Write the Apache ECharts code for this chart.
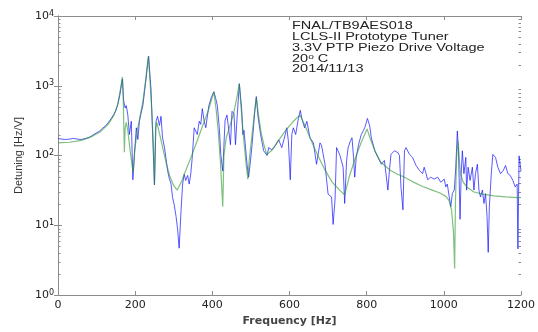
<!DOCTYPE html>
<html>
<head>
<meta charset="utf-8">
<title>Detuning</title>
<script src="https://cdn.jsdelivr.net/npm/echarts@6/dist/echarts.min.js"></script>
<style>
  html, body {
    margin: 0;
    padding: 0;
    background: #fff;
  }
  #chart {
    width: 538px;
    height: 332px;
  }
</style>
</head>
<body>
<div id="chart"></div>
<script>
// measured transfer function (blue)
let freqMeas = [0, 5, 10, 15, 20, 25, 30, 35, 40, 45, 50, 55, 60, 65, 70, 75, 80, 85, 90, 95,
  100, 108, 115, 122, 130, 138, 145, 150, 155, 160, 164, 167, 170, 174, 177, 181, 185, 190, 194, 198,
  203, 207, 211, 216, 220, 224, 228, 232, 235, 238, 241, 245, 250, 254, 258, 263, 267, 271, 276, 280,
  284, 288, 293, 297, 301, 306, 310, 314, 319, 323, 327, 331, 336, 340, 344, 348, 353, 357, 361, 366,
  370, 374, 379, 383, 391, 398, 404, 409, 413, 418, 422, 427, 433, 438, 447, 451, 456, 460, 464, 470,
  476, 479, 482, 486, 490, 494, 499, 503, 510, 514, 518, 525, 533, 542, 546, 554, 563, 572, 580, 589,
  593, 597, 602, 606, 610, 616, 623, 628, 632, 639, 645, 653, 662, 670, 679, 683, 692, 700, 709, 713,
  718, 722, 731, 739, 743, 748, 752, 758, 762, 766, 769, 773, 779, 786, 795, 802, 808, 812, 821, 829,
  838, 846, 855, 859, 863, 872, 881, 885, 889, 894, 898, 902, 911, 919, 928, 937, 945, 949, 954, 958,
  966, 975, 984, 992, 1001, 1005, 1009, 1014, 1018, 1022, 1027, 1031, 1035, 1038, 1040, 1042, 1045, 1048, 1052, 1057,
  1059, 1063, 1068, 1074, 1078, 1082, 1087, 1091, 1095, 1100, 1104, 1108, 1112, 1115, 1118, 1123, 1127, 1134, 1140, 1147,
  1154, 1160, 1166, 1172, 1179, 1185, 1190, 1192, 1195, 1197, 1200]
let detMeas = [175, 168, 172, 165, 170, 160, 172, 165, 176, 166, 172, 178, 170, 181, 175, 186, 180, 192, 196, 205,
  212, 225, 245, 262, 295, 340, 390, 440, 540, 720, 1000, 1250, 620, 480, 520, 380, 200, 310, 45, 103,
  250, 170, 310, 420, 520, 800, 1250, 2000, 2650, 1500, 900, 225, 38, 310, 365, 270, 365, 180, 130, 90,
  61, 48, 39, 25, 20, 13.4, 8.8, 4.7, 16.7, 39, 54, 44, 52, 39, 54, 94, 250, 265, 200, 310,
  280, 470, 310, 250, 520, 700, 820, 650, 520, 250, 103, 60, 320, 380, 143, 430, 400, 143, 340, 1070,
  470, 200, 230, 130, 75, 49, 85, 143, 430, 700, 380, 200, 117, 100, 130, 121, 138, 168, 130, 200,
  250, 163, 45, 200, 250, 200, 340, 445, 340, 250, 310, 180, 152, 75, 152, 140, 75, 28, 25.5, 10.3,
  23, 130, 100, 68, 20.6, 85, 130, 163, 180, 94, 49, 94, 144, 200, 250, 340, 265, 180, 117, 94,
  75, 85, 32, 61, 104, 117, 110, 100, 35, 16.7, 117, 130, 104, 94, 72, 61, 55, 68, 55, 45,
  49, 46, 49, 41.5, 46, 35.5, 39, 25.5, 18.5, 28.5, 32, 68, 225, 117, 39, 12.2, 55, 117, 55, 94,
  32, 68, 44, 68, 32, 55, 75, 32, 25.5, 32, 20.6, 28.5, 13.4, 4.1, 18.5, 55, 104, 94, 68, 55,
  61, 72, 55, 52, 44, 35.5, 39, 4.6, 99, 104, 60]

// model fit (green)
let freqFit = [0, 30, 60, 90, 110, 130, 145, 155, 162, 167, 169, 171, 172, 174, 177, 181, 186, 191, 195, 199,
  205, 212, 220, 228, 234, 238, 243, 247, 250, 253, 256, 262, 270, 280, 290, 300, 309, 320, 331, 345,
  357, 373, 390, 404, 410, 416, 421, 425, 427, 430, 436, 445, 455, 463, 470, 475, 481, 487, 492, 496,
  503, 509, 514, 519, 526, 534, 541, 555, 570, 590, 610, 627, 640, 655, 670, 690, 710, 730, 743, 755,
  770, 785, 801, 810, 822, 837, 860, 880, 898, 920, 945, 970, 990, 1005, 1013, 1020, 1025, 1028, 1030, 1033,
  1037, 1040, 1043, 1050, 1060, 1078, 1100, 1130, 1160, 1190, 1200]
let detFit = [152, 155, 165, 190, 220, 280, 380, 550, 900, 1340, 700, 200, 112, 250, 300, 230, 130, 80, 57, 120,
  220, 350, 600, 1300, 2650, 1300, 450, 150, 38, 250, 300, 220, 140, 80, 50, 37, 32, 42, 61, 95,
  143, 250, 450, 820, 450, 200, 80, 30, 18.5, 100, 180, 260, 400, 650, 1070, 450, 180, 80, 46, 90,
  200, 400, 680, 400, 220, 140, 103, 120, 160, 230, 310, 380, 270, 170, 110, 65, 42, 32, 27.3, 50,
  90, 150, 240, 170, 115, 80, 62, 54, 49, 42, 36, 32, 29, 26, 23, 16.7, 8, 2.4, 20, 94,
  163, 90, 55, 42, 35, 30, 28, 26.5, 25.5, 25, 25]

let notes = ['FNAL/TB9AES018', 'LCLS-II Prototype Tuner', '3.3V PTP Piezo Drive Voltage', '20{s|o} C', '2014/11/13']

// minor ticks of the log axis, 2..9 in every decade
let minorTicks = []
for (let e = 0; e < 4; e++) {
  for (let m = 2; m <= 9; m++) {
    minorTicks.push([0, m * Math.pow(10, e)])
  }
}

let axisGray = '#8c8c8c'
let labelFont = {fontFamily: 'DejaVu Sans', fontSize: 11, color: '#222'}

let chart = echarts.init(document.getElementById('chart'))

let noteGraphics = notes.map(function (t, i) {
  return {
    type: 'text',
    x: 292,
    y: 21 + i * 10.9,
    scaleX: 1.45,
    silent: true,
    style: {
      text: t,
      fill: '#222',
      font: '10px "Liberation Sans"',
      verticalAlign: 'top',
      rich: {
        s: {fontSize: 7, fontFamily: 'Liberation Sans', fill: '#222', verticalAlign: 'top', padding: [0, 0, 4, 0]}
      }
    }
  }
})

let option = {
  animation: false,
  backgroundColor: '#fff',
  grid: {
    left: 58,
    right: 14,
    top: 16,
    bottom: 32
  },
  xAxis: [
    {
      type: 'value',
      min: 0,
      max: 1200,
      interval: 200,
      name: 'Frequency [Hz]',
      nameLocation: 'middle',
      nameGap: 15,
      nameTextStyle: {fontFamily: 'DejaVu Sans', fontSize: 11, fontWeight: 'bold', color: '#444'},
      axisLine: {lineStyle: {color: axisGray}},
      axisTick: {inside: true, length: 4, lineStyle: {color: axisGray}},
      axisLabel: Object.assign({
        margin: 5,
        formatter: function (v) {
          return String(v)
        }
      }, labelFont),
      splitLine: {show: false}
    },
    {
      type: 'value',
      position: 'top',
      min: 0,
      max: 1200,
      interval: 200,
      axisLine: {show: true, lineStyle: {color: axisGray}},
      axisTick: {inside: true, length: 4, lineStyle: {color: axisGray}},
      axisLabel: {show: false},
      splitLine: {show: false}
    }
  ],
  yAxis: [
    {
      type: 'log',
      logBase: 10,
      min: 1,
      max: 10000,
      name: 'Detuning [Hz/V]',
      nameLocation: 'middle',
      nameGap: 33,
      nameTextStyle: {fontFamily: 'Liberation Sans', fontSize: 11, color: '#333'},
      axisLine: {show: true, lineStyle: {color: axisGray}},
      axisTick: {inside: true, length: 4, lineStyle: {color: axisGray}},
      axisLabel: {
        margin: 4,
        formatter: function (v) {
          return '{b|10}{s|' + Math.round(Math.log10(v)) + '}'
        },
        rich: {
          b: {fontFamily: 'DejaVu Sans', fontSize: 11, color: '#222'},
          s: {fontFamily: 'DejaVu Sans', fontSize: 8, color: '#222', verticalAlign: 'top', padding: [0, 0, 5, 0]}
        }
      },
      splitLine: {show: false}
    },
    {
      type: 'log',
      logBase: 10,
      min: 1,
      max: 10000,
      position: 'right',
      axisLine: {show: true, lineStyle: {color: axisGray}},
      axisTick: {inside: true, length: 4, lineStyle: {color: axisGray}},
      axisLabel: {show: false},
      splitLine: {show: false}
    }
  ],
  graphic: noteGraphics,
  series: [
    {
      name: 'minor ticks',
      type: 'custom',
      silent: true,
      clip: false,
      data: minorTicks,
      renderItem: function (params, api) {
        let cs = params.coordSys
        let y = Math.round(api.coord([0, api.value(1)])[1]) + 0.5
        let st = {stroke: axisGray, lineWidth: 1}
        return {
          type: 'group',
          children: [
            {type: 'line', shape: {x1: cs.x, y1: y, x2: cs.x + 2.5, y2: y}, style: st},
            {type: 'line', shape: {x1: cs.x + cs.width - 2.5, y1: y, x2: cs.x + cs.width, y2: y}, style: st}
          ]
        }
      }
    },
    {
      name: 'measured',
      type: 'line',
      showSymbol: false,
      data: freqMeas.map(function (f, i) { return [f, detMeas[i]] }),
      lineStyle: {color: 'rgba(20, 20, 255, 0.7)', width: 1}
    },
    {
      name: 'fit',
      type: 'line',
      showSymbol: false,
      data: freqFit.map(function (f, i) { return [f, detFit[i]] }),
      lineStyle: {color: 'rgba(40, 150, 40, 0.6)', width: 1.2}
    }
  ]
}

chart.setOption(option)
</script>
</body>
</html>
